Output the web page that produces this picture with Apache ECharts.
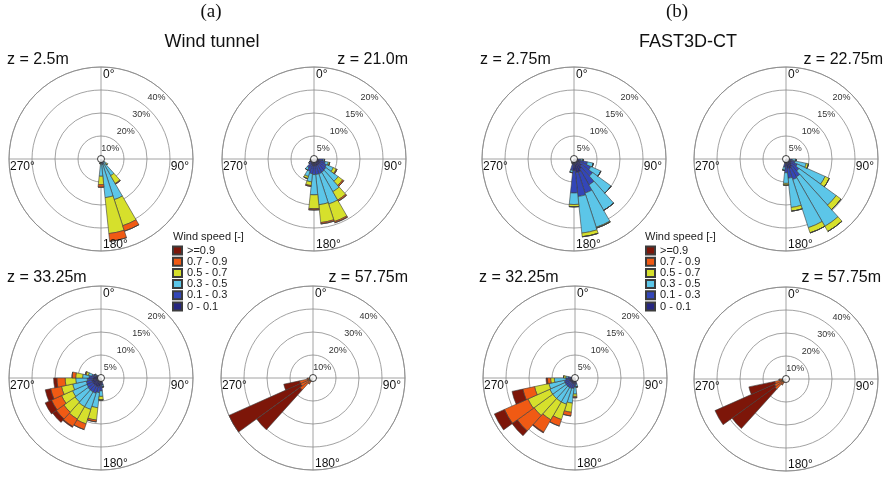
<!DOCTYPE html>
<html>
<head>
<meta charset="utf-8">
<script src="https://cdn.jsdelivr.net/npm/echarts@6/dist/echarts.min.js"></script>
<style>
  html, body { margin: 0; background: #fff; }
  #chart { width: 887px; height: 479px; }
</style>
</head>
<body>
<div id="chart"></div>
<script>
// wind direction sectors (deg, 12° wide)
const directions = [0, 12, 24, 36, 48, 60, 72, 84, 96, 108, 120, 132, 144, 156, 168,
  180, 192, 204, 216, 228, 240, 252, 264, 276, 288, 300, 312, 324, 336, 348];
// speed bins, stacked from the centre outwards
const bins = ['0 - 0.1', '0.1 - 0.3', '0.3 - 0.5', '0.5 - 0.7', '0.7 - 0.9', '>=0.9'];
const legendOrder = ['>=0.9', '0.7 - 0.9', '0.5 - 0.7', '0.3 - 0.5', '0.1 - 0.3', '0 - 0.1'];
const compassLabels = ['0°', '90°', '180°', '270°'];
const ringTicks40 = [10, 20, 30, 40];
const ringTicks20 = [5, 10, 15, 20];

// frequency (%) per sector: [dir, 0-0.1, 0.1-0.3, 0.3-0.5, 0.5-0.7, 0.7-0.9, >=0.9]
const wt_z2_5 = [
  [132, 0.5, 0.6, 1.8, 0.6, 0, 0],
  [144, 0.8, 1.0, 6.6, 3.9, 0.3, 0],
  [156, 1.0, 1.5, 16.1, 11.9, 2.5, 0],
  [168, 1.0, 1.5, 14.4, 15.7, 3.4, 0],
  [180, 0.8, 1.2, 5.5, 3.7, 1.1, 0],
  [192, 0.4, 0.4, 1.0, 0.3, 0, 0]
];
const wt_z21_0 = [
  [96, 1.0, 1.0, 0.3, 0, 0, 0],
  [108, 1.2, 1.3, 0.7, 0.3, 0, 0],
  [120, 1.5, 1.5, 1.6, 0.7, 0.2, 0],
  [132, 1.5, 1.7, 3.3, 1.2, 0.3, 0],
  [144, 1.5, 1.8, 4.9, 2.1, 0.3, 0],
  [156, 1.5, 1.9, 6.9, 4.0, 0.3, 0],
  [168, 1.5, 1.9, 6.6, 3.9, 0.3, 0],
  [180, 1.5, 1.9, 4.4, 3.0, 0.3, 0],
  [192, 1.5, 1.7, 1.8, 0.8, 0.2, 0],
  [204, 1.2, 1.6, 1.2, 0.5, 0, 0],
  [216, 1.0, 1.2, 0.6, 0, 0, 0],
  [228, 0.8, 0.6, 0, 0, 0, 0],
  [240, 0.7, 0.4, 0, 0, 0, 0],
  [252, 0.6, 0.2, 0, 0, 0, 0]
];
const wt_z33_25 = [
  [168, 1.0, 0.6, 0.4, 0, 0, 0],
  [180, 1.5, 1.3, 1.2, 0.8, 0, 0],
  [192, 1.8, 1.4, 3.3, 2.7, 0.4, 0],
  [204, 2.0, 1.5, 3.7, 3.3, 1.3, 0],
  [216, 2.0, 1.5, 3.7, 3.1, 1.9, 0.2],
  [228, 2.0, 1.5, 3.5, 3.0, 2.0, 1.0],
  [240, 2.0, 1.4, 3.4, 2.6, 2.4, 1.5],
  [252, 2.0, 1.3, 3.0, 2.5, 2.4, 1.2],
  [264, 1.8, 1.2, 2.5, 2.3, 1.8, 0.7],
  [276, 1.6, 1.0, 1.4, 1.5, 0.8, 0],
  [288, 1.2, 0.8, 0.8, 0.5, 0.2, 0],
  [300, 0.8, 0.4, 0.3, 0, 0, 0]
];
const wt_z57_75 = [
  [204, 0.1, 0.1, 0.2, 0.3, 0.8, 0],
  [216, 0.1, 0.2, 0.3, 0.6, 1.8, 0],
  [228, 0.2, 0.3, 0.5, 1.0, 5.0, 23.3],
  [240, 0.2, 0.3, 0.5, 1.0, 4.0, 34.0],
  [252, 0.2, 0.3, 0.5, 1.0, 4.0, 7.0],
  [264, 0.1, 0.2, 0.3, 0.6, 1.3, 0]
];
const fast_z2_75 = [
  [96, 0.8, 0.7, 0.5, 0, 0, 0],
  [108, 1.2, 1.8, 1.3, 0, 0, 0],
  [120, 1.5, 2.5, 2.4, 0, 0, 0],
  [132, 2.0, 3.0, 5.0, 0, 0, 0],
  [144, 2.5, 4.0, 6.4, 0, 0, 0],
  [156, 3.0, 4.8, 7.8, 0.2, 0, 0],
  [168, 3.0, 5.2, 8.0, 0.8, 0, 0],
  [180, 2.5, 4.9, 2.5, 0.5, 0, 0],
  [192, 1.2, 1.3, 0.5, 0, 0, 0],
  [204, 0.6, 0.4, 0, 0, 0, 0]
];
const fast_z22_75 = [
  [96, 0.8, 0.6, 0.8, 0, 0, 0],
  [108, 1.0, 1.0, 2.5, 0.5, 0, 0],
  [120, 1.2, 1.5, 6.6, 1.0, 0, 0],
  [132, 1.5, 2.0, 10.0, 1.3, 0, 0],
  [144, 2.0, 2.5, 12.4, 1.3, 0, 0],
  [156, 2.2, 2.5, 11.0, 1.2, 0, 0],
  [168, 2.0, 2.2, 6.4, 0.8, 0, 0],
  [180, 1.5, 1.5, 2.3, 0.4, 0, 0],
  [192, 1.0, 0.8, 0.7, 0, 0, 0],
  [204, 0.5, 0.3, 0, 0, 0, 0]
];
const fast_z32_25 = [
  [168, 0.8, 0.6, 0.6, 0, 0, 0],
  [180, 1.0, 1.0, 1.5, 0.5, 0.3, 0],
  [192, 1.2, 1.1, 3.2, 2.0, 0.8, 0],
  [204, 1.2, 1.2, 3.6, 3.5, 1.5, 0],
  [216, 1.2, 1.2, 3.6, 4.5, 3.1, 0.2],
  [228, 1.2, 1.2, 3.6, 5.0, 4.5, 1.4],
  [240, 1.2, 1.2, 3.6, 5.2, 5.6, 2.4],
  [252, 1.2, 1.2, 3.4, 3.2, 2.6, 2.4],
  [264, 1.0, 1.0, 2.5, 0.8, 0.7, 0.3],
  [276, 0.8, 0.7, 0.5, 0.5, 0, 0]
];
const fast_z57_75 = [
  [204, 0.1, 0.1, 0.2, 0.3, 0.8, 0],
  [216, 0.1, 0.2, 0.3, 0.6, 1.8, 0],
  [228, 0.2, 0.3, 0.5, 1.0, 4.0, 23.0],
  [240, 0.2, 0.3, 0.5, 1.0, 3.5, 28.3],
  [252, 0.2, 0.3, 0.5, 1.0, 3.0, 11.5],
  [264, 0.1, 0.2, 0.3, 0.6, 1.8, 0]
];

const binColors = ['#262680', '#3346b8', '#5cc6e8', '#d6e02c', '#f05a14', '#7d1609'];
const gridColor = '#8a8a8a';
const sans = 'Liberation Sans, Arial, sans-serif';
const R = 92;

// layout of the eight roses
const roses = [
  { data: wt_z2_5, ticks: ringTicks40, cx: 101, cy: 159, label: 'z = 2.5m', lx: 7, ly: 52, la: 'left' },
  { data: wt_z21_0, ticks: ringTicks20, cx: 314, cy: 159, label: 'z = 21.0m', lx: 408, ly: 52, la: 'right' },
  { data: wt_z33_25, ticks: ringTicks20, cx: 101, cy: 378, label: 'z = 33.25m', lx: 7, ly: 270, la: 'left' },
  { data: wt_z57_75, ticks: ringTicks40, cx: 313, cy: 378, label: 'z = 57.75m', lx: 408, ly: 270, la: 'right' },
  { data: fast_z2_75, ticks: ringTicks20, cx: 574, cy: 159, label: 'z = 2.75m', lx: 480, ly: 52, la: 'left' },
  { data: fast_z22_75, ticks: ringTicks20, cx: 786, cy: 159, label: 'z = 22.75m', lx: 883, ly: 52, la: 'right' },
  { data: fast_z32_25, ticks: ringTicks20, cx: 575, cy: 378, label: 'z = 32.25m', lx: 479, ly: 270, la: 'left' },
  { data: fast_z57_75, ticks: ringTicks40, cx: 786, cy: 379, label: 'z = 57.75m', lx: 881, ly: 270, la: 'right' }
];

function txt(text, x, y, font, align, vAlign, fill) {
  return {
    type: 'text', x: x, y: y, silent: true, z: 10,
    style: { text: text, font: font, fill: fill || '#111',
      align: align, textAlign: align, verticalAlign: vAlign, textVerticalAlign: vAlign }
  };
}

const polar = [], angleAxis = [], radiusAxis = [], series = [], graphic = [];
const lineStyle = { color: gridColor, width: 0.8 };

roses.forEach((rose, i) => {
  const a = 2 * i, b = 2 * i + 1;
  const max = rose.ticks[rose.ticks.length - 1];
  polar.push({ center: [rose.cx, rose.cy], radius: R });
  polar.push({ center: [rose.cx, rose.cy], radius: R });
  // bars
  angleAxis.push({ polarIndex: a, type: 'category', data: directions.map(String), startAngle: 96,
    axisLine: { show: false }, axisTick: { show: false }, axisLabel: { show: false }, splitLine: { show: false } });
  radiusAxis.push({ polarIndex: a, type: 'value', min: 0, max: max,
    axisLine: { show: false }, axisTick: { show: false }, axisLabel: { show: false }, splitLine: { show: false } });
  // grid: rings + cross
  angleAxis.push({ polarIndex: b, type: 'value', min: 0, max: 360, interval: 90, startAngle: 90,
    axisLine: { show: true, lineStyle: lineStyle }, axisTick: { show: false }, axisLabel: { show: false },
    splitLine: { show: true, lineStyle: lineStyle } });
  radiusAxis.push({ polarIndex: b, type: 'value', min: 0, max: max, interval: rose.ticks[0],
    axisLine: { show: false }, axisTick: { show: false }, axisLabel: { show: false },
    splitLine: { show: true, lineStyle: lineStyle } });

  bins.forEach((name, k) => {
    const values = directions.map(d => {
      const row = rose.data.find(r => r[0] === d);
      return row ? row[k + 1] : 0;
    });
    series.push({
      type: 'bar', name: name, coordinateSystem: 'polar', polarIndex: a, stack: 'rose' + i,
      data: values, barCategoryGap: '0%', silent: true,
      itemStyle: { color: binColors[k], borderColor: '#3c3c3c', borderWidth: 0.6 }
    });
  });
  // calm centre
  series.push({
    type: 'scatter', coordinateSystem: 'polar', polarIndex: b, data: [[0, 0]], symbolSize: 7, z: 5, silent: true,
    itemStyle: { color: '#fff', borderColor: '#111', borderWidth: 1 }
  });

  // compass labels
  const f12 = '12px ' + sans;
  graphic.push(txt(compassLabels[0], rose.cx + 2, rose.cy - R + 2, f12, 'left', 'top'));
  graphic.push(txt(compassLabels[1], rose.cx + R - 4, rose.cy + 2, f12, 'right', 'top'));
  graphic.push(txt(compassLabels[2], rose.cx + 2, rose.cy + R, f12, 'left', 'bottom'));
  graphic.push(txt(compassLabels[3], rose.cx - R + 1, rose.cy + 2, f12, 'left', 'top'));
  // ring labels
  rose.ticks.forEach((t, k) => {
    const d = (k + 1) * R / rose.ticks.length - 9;
    const ang = 42 * Math.PI / 180;
    graphic.push(txt(t + '%', rose.cx + d * Math.sin(ang), rose.cy - d * Math.cos(ang),
      '9px ' + sans, 'center', 'middle', '#333'));
  });
  graphic.push(txt(rose.label, rose.lx, rose.ly, '16px ' + sans, rose.la, 'top', '#111'));
});

graphic.push(txt('(a)', 211, 3, '19px Liberation Serif, Times New Roman, serif', 'center', 'top'));
graphic.push(txt('(b)', 677, 3, '19px Liberation Serif, Times New Roman, serif', 'center', 'top'));
graphic.push(txt('Wind tunnel', 212, 33, '18px ' + sans, 'center', 'top'));
graphic.push(txt('FAST3D-CT', 688, 33, '18px ' + sans, 'center', 'top'));
graphic.push(txt('Wind speed [-]', 173, 231, '11px ' + sans, 'left', 'top', '#222'));
graphic.push(txt('Wind speed [-]', 645, 231, '11px ' + sans, 'left', 'top', '#222'));

const legendBase = {
  data: legendOrder, orient: 'vertical', top: 245, itemWidth: 9, itemHeight: 8, itemGap: 0.2,
  padding: 0, icon: 'rect', selectedMode: false,
  textStyle: { fontSize: 11, lineHeight: 10, color: '#222', fontFamily: sans }
};

const chart = echarts.init(document.getElementById('chart'));
chart.setOption({
  animation: false,
  backgroundColor: '#fff',
  legend: [
    Object.assign({ left: 172 }, legendBase),
    Object.assign({ left: 645 }, legendBase)
  ],
  polar: polar,
  angleAxis: angleAxis,
  radiusAxis: radiusAxis,
  series: series,
  graphic: graphic
});
</script>
</body>
</html>
